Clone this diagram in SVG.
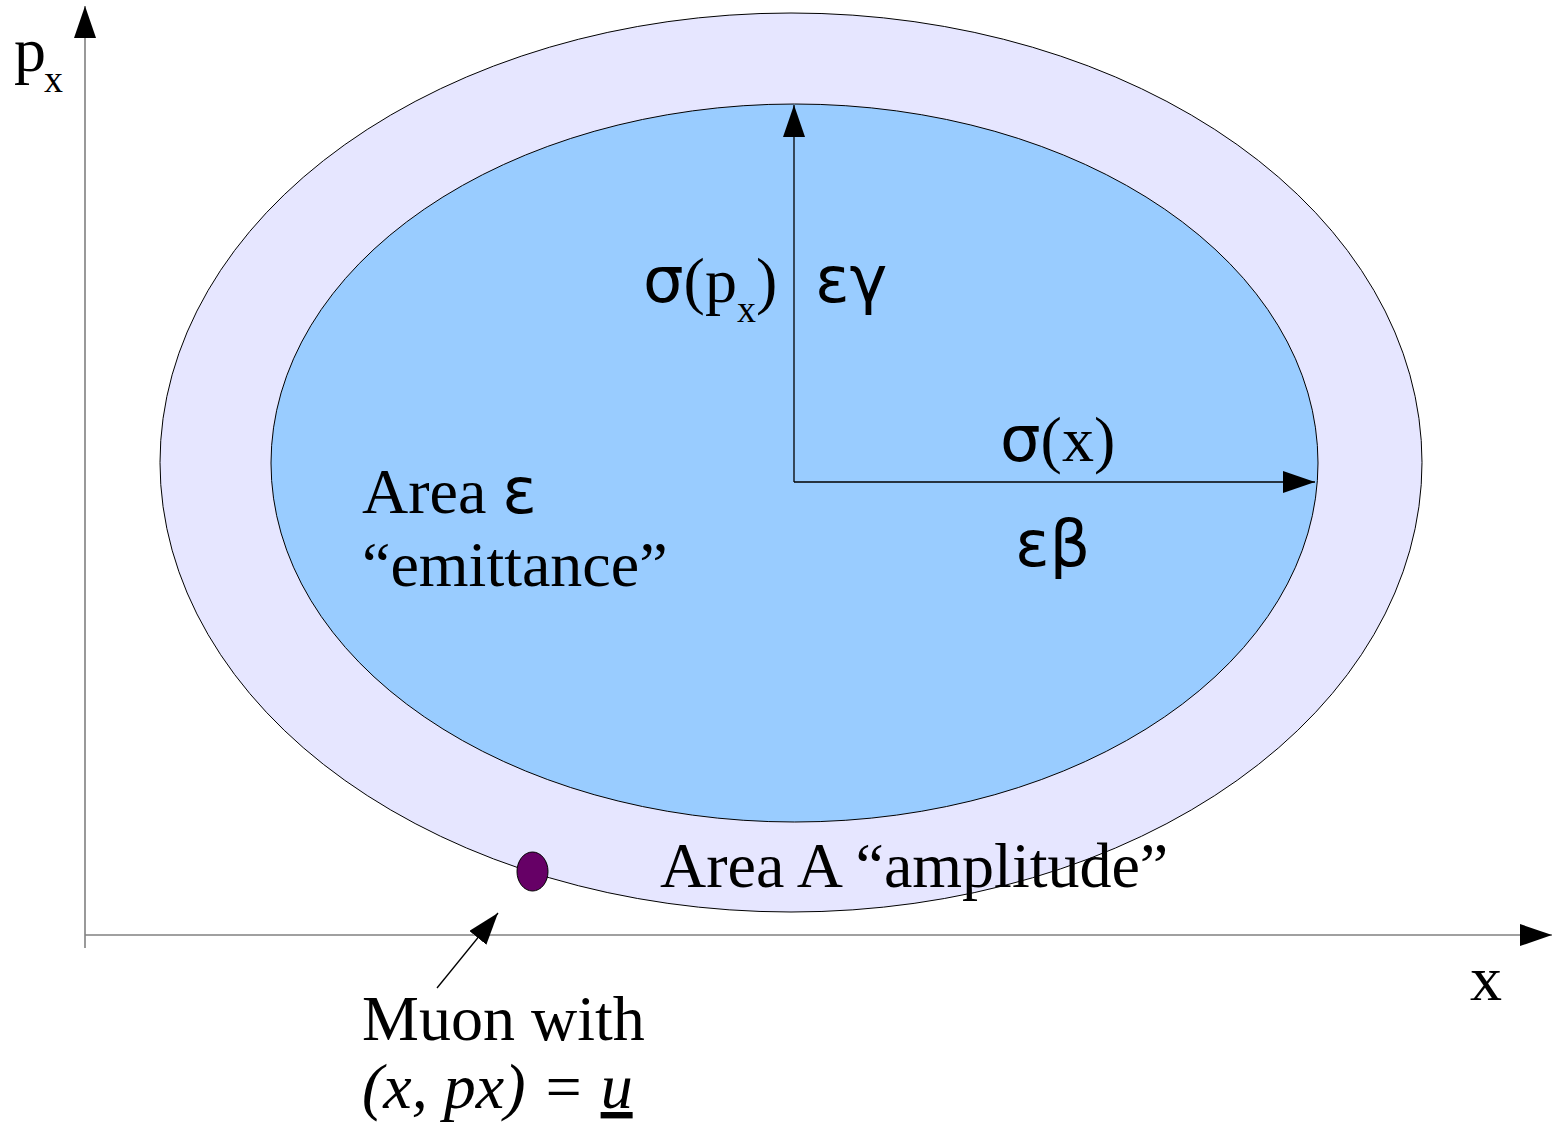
<svg xmlns="http://www.w3.org/2000/svg" xmlns:xlink="http://www.w3.org/1999/xlink" width="1552" height="1124" viewBox="0 0 1552 1124">
  <style>
    .serif { font-family: "Liberation Serif", "Times New Roman", serif; font-size: 64px; fill: #000; }
    .greek { font-family: "DejaVu Sans", sans-serif; }
    .sub { font-size: 38px; }
    .axis { stroke: #808080; stroke-width: 1.6; fill: none; }
    .vec { stroke: #000; stroke-width: 1.3; fill: none; }
    .outline { fill: none; stroke: #000; stroke-width: 1; }
  </style>
  <defs>
    <marker id="head" markerUnits="userSpaceOnUse" markerWidth="33" markerHeight="23" refX="32" refY="11" orient="auto">
      <path d="M0,0 L32,11 L0,22 Z" fill="#000"/>
    </marker>
    <ellipse id="outerShape" cx="791" cy="462.5" rx="631" ry="449.5"/>
  </defs>

  <!-- outer phase-space ellipse: amplitude region -->
  <g id="amplitude-region">
    <use xlink:href="#outerShape" fill="#e6e6ff"/>
    <text class="serif" x="660" y="887">Area A “amplitude”</text>
    <use xlink:href="#outerShape" class="outline"/>
  </g>

  <!-- inner ellipse: emittance region -->
  <g id="emittance-region">
    <ellipse cx="794.5" cy="463" rx="523.5" ry="359" fill="#99ccff" stroke="#000" stroke-width="1"/>
    <text class="serif" x="362" y="513">Area <tspan class="greek">ε</tspan></text>
    <text class="serif" x="362" y="586">“emittance”</text>
  </g>

  <!-- muon marker -->
  <g id="muon">
    <ellipse cx="532.5" cy="871.5" rx="15.5" ry="19.5" fill="#660066" stroke="#000" stroke-width="1"/>
  </g>

  <!-- axes, beam-size vectors and pointer -->
  <g id="connectors">
    <line class="axis" x1="85" y1="948" x2="85" y2="6" marker-end="url(#head)"/>
    <line class="axis" x1="85" y1="935" x2="1552" y2="935" marker-end="url(#head)"/>
    <line class="vec" x1="794" y1="482" x2="794" y2="105" marker-end="url(#head)"/>
    <line class="vec" x1="794" y1="482" x2="1315" y2="482" marker-end="url(#head)"/>
    <line class="vec" x1="437" y1="988" x2="498" y2="913" marker-end="url(#head)"/>
  </g>

  <!-- axis labels -->
  <g id="axis-labels">
    <text class="serif" x="14" y="71">p<tspan class="sub" x="44" y="92">x</tspan></text>
    <text class="serif" x="1470" y="1000">x</text>
  </g>

  <!-- beam-size labels -->
  <g id="size-labels">
    <text class="serif" x="643" y="302"><tspan class="greek">σ</tspan>(p<tspan class="sub" dy="20">x</tspan><tspan dy="-20">)</tspan></text>
    <text class="serif greek" x="815" y="302">εγ</text>
    <text class="serif" x="1000" y="461"><tspan class="greek">σ</tspan>(x)</text>
    <text class="serif greek" x="1015" y="566">εβ</text>
  </g>

  <!-- muon caption -->
  <g id="muon-caption">
    <text class="serif" x="362" y="1040">Muon with</text>
    <text class="serif" x="362" y="1108" font-style="italic">(x, px) = <tspan text-decoration="underline">u</tspan></text>
  </g>
</svg>
